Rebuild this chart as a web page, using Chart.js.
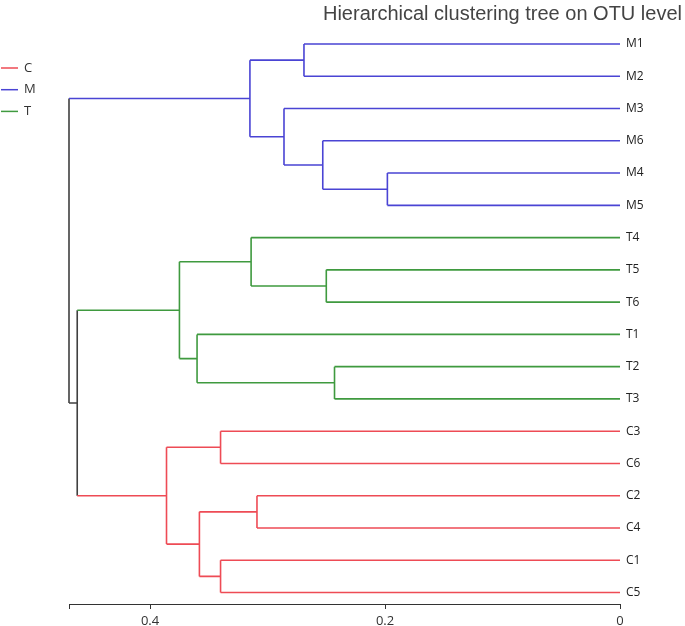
<!DOCTYPE html>
<html>
<head>
<meta charset="utf-8">
<script src="https://cdn.jsdelivr.net/npm/chart.js@4.4.1/dist/chart.umd.min.js"></script>
<style>
    html, body { margin: 0; padding: 0; background: #fff; }
    #wrap { width: 685px; height: 626px; }
</style>
</head>
<body>
<div id="wrap"><canvas id="tree"></canvas></div>
<script>
// Hojas en el orden del dibujo (arriba -> abajo)
const leaves = ['M1', 'M2', 'M3', 'M6', 'M4', 'M5', 'T4', 'T5', 'T6', 'T1', 'T2', 'T3', 'C3', 'C6', 'C2', 'C4', 'C1', 'C5'];
const groups = ['C', 'M', 'T'];
const groupColors = ['#ee4b55', '#4a44d4', '#3f9a3f'];
const mixedColor = '#404040';

// Uniones: hijo izquierdo, hijo derecho, altura ('nK' = union numero K)
const mergeLeft   = ['M1', 'M4', 'M6', 'M3', 'n0', 'T5', 'T4', 'T2', 'T1', 'n6', 'C3', 'C2', 'C1', 'n11', 'n10', 'n9', 'n4'];
const mergeRight  = ['M2', 'M5', 'n1', 'n2', 'n3', 'T6', 'n5', 'T3', 'n7', 'n8', 'C6', 'C4', 'C5', 'n12', 'n13', 'n14', 'n15'];
const mergeHeight = [0.269, 0.198, 0.253, 0.286, 0.315, 0.250, 0.314, 0.243, 0.360, 0.375, 0.340, 0.309, 0.340, 0.358, 0.386, 0.462, 0.469];

const xTicks = [0, 0.2, 0.4];
const xMax = 0.469;

document.addEventListener("DOMContentLoaded", () => {
    const nodes = {};
    leaves.forEach((name, i) => {
        nodes[name] = { y: i, h: 0, group: groups.indexOf(name[0]) };
    });

    // Segmentos agrupados por color, separados con NaN
    const segs = {};
    const addSeg = (color, a, b) => {
        if (!segs[color]) segs[color] = [];
        segs[color].push(a, b, { x: NaN, y: NaN });
    };
    const colorOf = (n) => n.group >= 0 ? groupColors[n.group] : mixedColor;

    mergeHeight.forEach((h, k) => {
        const a = nodes[mergeLeft[k]];
        const b = nodes[mergeRight[k]];
        const node = { y: (a.y + b.y) / 2, h: h, group: a.group === b.group ? a.group : -1 };
        nodes['n' + k] = node;
        addSeg(colorOf(a), { x: a.h, y: a.y }, { x: h, y: a.y });
        addSeg(colorOf(b), { x: b.h, y: b.y }, { x: h, y: b.y });
        addSeg(colorOf(node), { x: h, y: a.y }, { x: h, y: b.y });
    });

    const datasets = Object.keys(segs).map(color => ({
        data: segs[color],
        borderColor: color,
        borderWidth: 1.6,
        showLine: true,
        spanGaps: false,
        pointRadius: 0,
        tension: 0,
        clip: false
    }));

    // Leyenda a mano (lineas cortas arriba a la izquierda)
    const legendLines = {
        id: 'legendLines',
        afterDraw(chart) {
            const ctx = chart.ctx;
            ctx.save();
            ctx.font = '13px "Open Sans"';
            ctx.textBaseline = 'middle';
            groups.forEach((g, i) => {
                const y = 68 + i * 21.7;
                ctx.strokeStyle = groupColors[i];
                ctx.lineWidth = 1.5;
                ctx.beginPath();
                ctx.moveTo(1, y);
                ctx.lineTo(18, y);
                ctx.stroke();
                ctx.fillStyle = '#333';
                ctx.fillText(g, 24, y);
            });
            ctx.restore();
        }
    };

    new Chart(document.getElementById('tree'), {
        type: 'scatter',
        data: { datasets },
        plugins: [legendLines],
        options: {
            responsive: true,
            maintainAspectRatio: false,
            animation: false,
            layout: { padding: { left: 69, right: 3, top: 0, bottom: 0 } },
            plugins: {
                legend: { display: false },
                tooltip: { enabled: false },
                title: {
                    display: true,
                    text: 'Hierarchical clustering tree on OTU level',
                    align: 'end',
                    color: '#444',
                    font: { family: 'Liberation Sans', size: 20, weight: 'normal' },
                    padding: { top: 2, bottom: 1 }
                }
            },
            scales: {
                x: {
                    type: 'linear',
                    reverse: true,
                    min: 0,
                    max: xMax,
                    afterBuildTicks: (scale) => {
                        scale.ticks = [...xTicks, xMax].map(v => ({ value: v }));
                    },
                    afterFit: (scale) => { scale.height = 22; },
                    ticks: {
                        autoSkip: false,
                        maxRotation: 0,
                        padding: 4,
                        color: '#333',
                        font: { family: 'Open Sans', size: 13 },
                        callback: (v) => v === xMax ? '' : String(v)
                    },
                    grid: { drawOnChartArea: false, drawTicks: true, tickLength: 5, color: '#333' },
                    border: { display: true, color: '#333', width: 1 }
                },
                y: {
                    type: 'linear',
                    position: 'right',
                    reverse: true,
                    min: -0.527,
                    max: 17.356,
                    afterBuildTicks: (scale) => {
                        scale.ticks = leaves.map((_, i) => ({ value: i }));
                    },
                    afterFit: (scale) => { scale.width = 62; },
                    ticks: {
                        autoSkip: false,
                        padding: 6,
                        color: '#222',
                        font: { family: 'Open Sans', size: 12 },
                        callback: (v) => leaves[v]
                    },
                    grid: { display: false, drawTicks: false },
                    border: { display: false }
                }
            }
        }
    });
});
</script>
</body>
</html>
